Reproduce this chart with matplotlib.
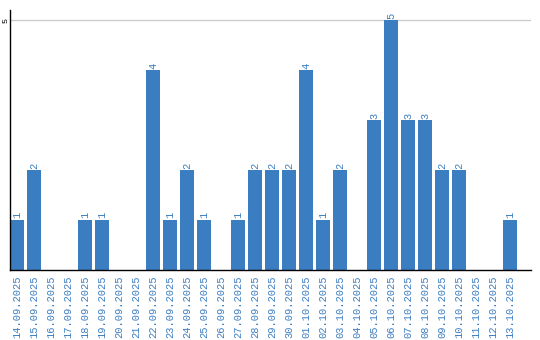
import numpy as np
import matplotlib.pyplot as plt

dates = ["14.09.2025", "15.09.2025", "16.09.2025", "17.09.2025", "18.09.2025",
         "19.09.2025", "20.09.2025", "21.09.2025", "22.09.2025", "23.09.2025",
         "24.09.2025", "25.09.2025", "26.09.2025", "27.09.2025", "28.09.2025",
         "29.09.2025", "30.09.2025", "01.10.2025", "02.10.2025", "03.10.2025",
         "04.10.2025", "05.10.2025", "06.10.2025", "07.10.2025", "08.10.2025",
         "09.10.2025", "10.10.2025", "11.10.2025", "12.10.2025", "13.10.2025"]
counts = [1, 2, 0, 0, 1, 1, 0, 0, 4, 1,
          2, 1, 0, 1, 2, 2, 2, 4, 1, 2,
          0, 3, 5, 3, 3, 2, 2, 0, 0, 1]

blue = '#3b7dc1'
font = 'Liberation Mono'

fig = plt.figure(figsize=(5.4, 3.4), dpi=100)
ax = fig.add_axes([10/540, 70/340, 521/540, 260/340])

x = np.arange(len(dates))
ax.bar(x, counts, width=14/17, color=blue, zorder=2)

# value labels above the bars (zero days get none)
for xi, c in zip(x, counts):
    if c > 0:
        ax.text(xi, c + 0.03, str(c), rotation=90, ha='center', va='bottom',
                color=blue, fontsize=7.5, family=font)

ax.set_xlim(-0.41, 30.24)
ax.set_ylim(0, 5.2)
ax.set_yticks([5])
ax.set_yticklabels(['5'], rotation=90, va='center', family=font, fontsize=6)
ax.tick_params(axis='y', length=0, pad=0.5)
ax.grid(axis='y', color='#cccccc', linewidth=1, zorder=0)

ax.set_xticks(x)
ax.set_xticklabels(dates, rotation=90, color=blue, family=font, fontsize=7.5)
ax.tick_params(axis='x', length=0, pad=4)

ax.spines['top'].set_visible(False)
ax.spines['right'].set_visible(False)
ax.spines['left'].set_linewidth(1)
ax.spines['bottom'].set_linewidth(1)

plt.savefig('out.png', dpi=100)
